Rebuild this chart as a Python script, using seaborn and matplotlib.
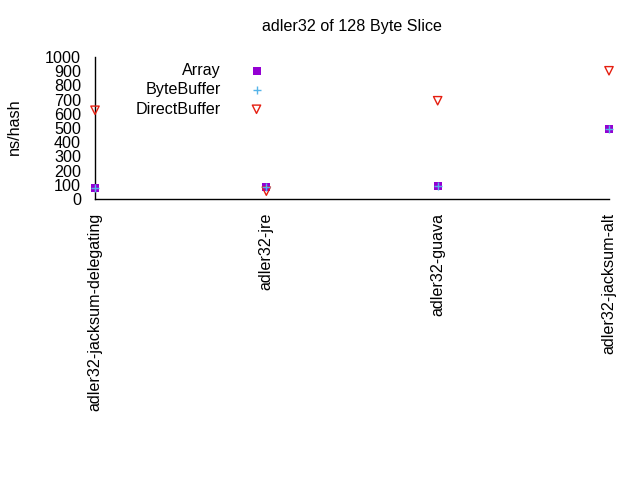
import matplotlib
matplotlib.use("Agg")
import matplotlib.pyplot as plt
import seaborn as sns
import pandas as pd

# Benchmark results (ns per hash)
benchmarks = ["adler32-jacksum-delegating", "adler32-jre", "adler32-guava", "adler32-jacksum-alt"]
array_ns = [78, 88, 92, 493]
bytebuffer_ns = [80, 88, 92, 493]
directbuffer_ns = [625, 55, 692, 903]
yticks = list(range(0, 1001, 100))

sns.set_style("white")
plt.rcParams["font.family"] = ["Liberation Sans", "DejaVu Sans"]
plt.rcParams["text.color"] = "black"
plt.rcParams["xtick.color"] = "black"
plt.rcParams["ytick.color"] = "black"
FS = 11.6

fig = plt.figure(figsize=(6.4, 4.8), dpi=100)
ax = fig.add_axes([95 / 640, 1 - 199 / 480, 514 / 640, 142 / 480])

pos = list(range(len(benchmarks)))
series = [
    ("Array", array_ns, "s", "#9400D3", 26, True),
    ("ByteBuffer", bytebuffer_ns, "+", "#56B4E9", 36, False),
    ("DirectBuffer", directbuffer_ns, "v", "#E51E10", 36, False),
]
for name, vals, mk, col, size, filled in series:
    df = pd.DataFrame({"x": pos, "y": vals})
    if filled:
        sns.scatterplot(data=df, x="x", y="y", marker=mk, color=col, s=size,
                        linewidth=0, ax=ax, label=name, clip_on=False, zorder=3)
    elif mk == "+":
        sns.scatterplot(data=df, x="x", y="y", marker=mk, color=col, s=size,
                        linewidth=1, ax=ax, label=name, clip_on=False, zorder=4)
    else:
        sns.scatterplot(data=df, x="x", y="y", marker=mk, facecolor="none",
                        edgecolor=col, s=size, linewidth=1, ax=ax, label=name,
                        clip_on=False, zorder=3)

ax.set_xlim(0, 3)
ax.set_ylim(0, 1000)
ax.set_xticks(pos)
ax.set_xticklabels(benchmarks, rotation=90, va="top", ha="center")
ax.set_yticks(yticks)
ax.set_xlabel("")
ax.set_ylabel("")
ax.tick_params(direction="in", length=6, width=1, labelsize=FS)
ax.tick_params(axis="y", pad=10)
ax.tick_params(axis="x", pad=10)
for s in ["top", "right"]:
    ax.spines[s].set_visible(False)
for s in ["left", "bottom"]:
    ax.spines[s].set_color("black")
    ax.spines[s].set_linewidth(1)

leg = ax.legend(loc="upper right", bbox_to_anchor=(271 / 640, 1 - 57 / 480),
                bbox_transform=fig.transFigure, frameon=False, markerfirst=False,
                fontsize=FS, handletextpad=1.7, labelspacing=0.25,
                borderaxespad=0, handlelength=1)

fig.text(352 / 640, 1 - 27 / 480, "adler32 of 128 Byte Slice", ha="center", va="center", fontsize=FS)
fig.text(14 / 640, 1 - 127 / 480, "ns/hash", rotation=90, ha="center", va="center", fontsize=FS)

fig.savefig("out.png", dpi=100)
